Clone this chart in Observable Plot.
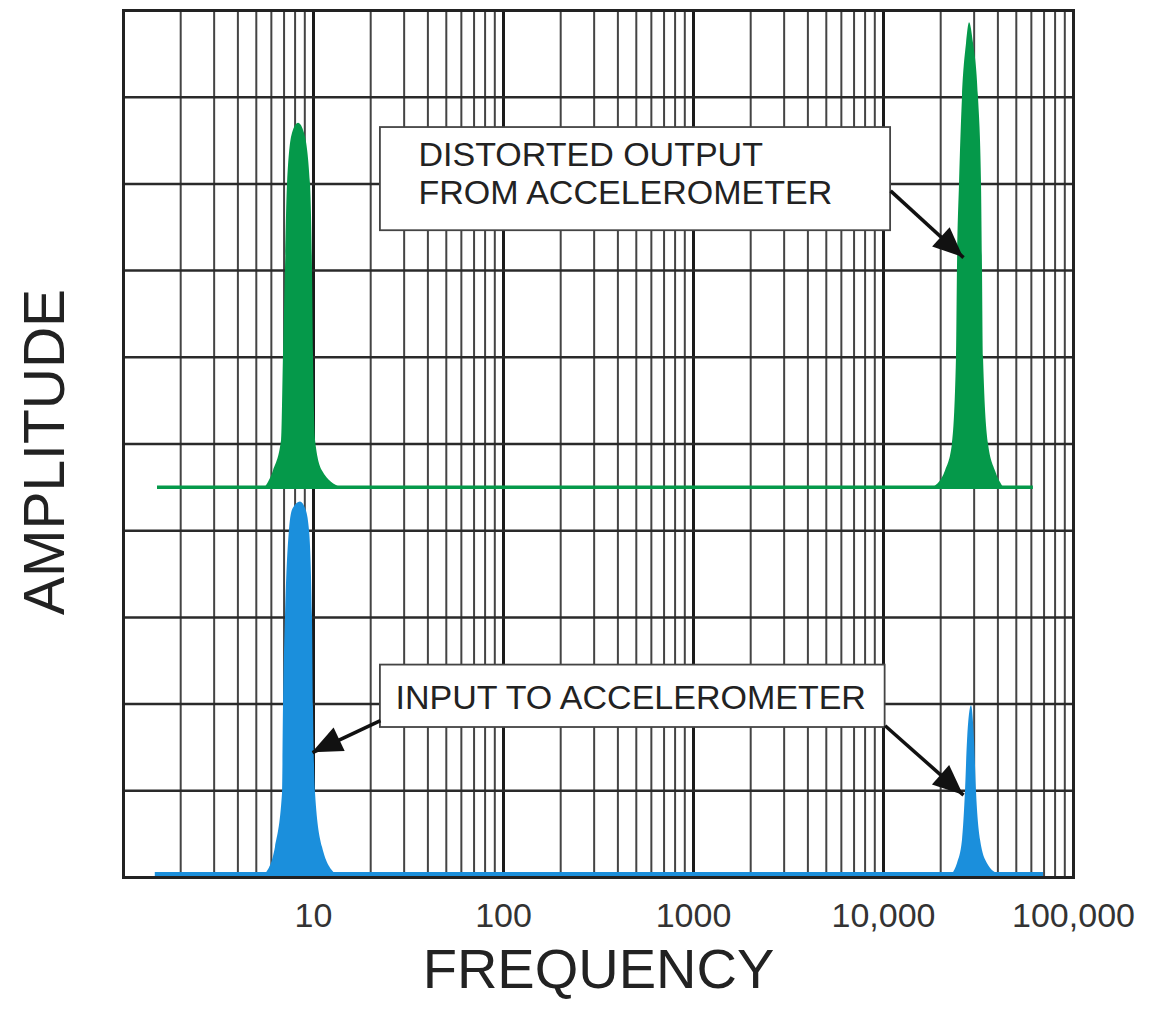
<!DOCTYPE html>
<html>
<head>
<meta charset="utf-8">
<script src="https://cdn.jsdelivr.net/npm/d3@7"></script>
<script src="https://cdn.jsdelivr.net/npm/@observablehq/plot@0.6"></script>
<style>
  body { margin: 0; background: #fff; }
  #chart svg { display: block; }
</style>
</head>
<body>
<div id="chart"></div>
<script>
// Frequency axis: labelled decades
const decadeTicks = [10, 100, 1000, 10000, 100000];
const decadeLabels = ["10", "100", "1000", "10,000", "100,000"];
const amplitudeGrid = [0, 1, 2, 3, 4, 5, 6, 7, 8, 9, 10];

// Spectrum baselines (amplitude) and their frequency extent (Hz)
const outputBaseline = 4.5;
const inputBaseline = 0.04;
const outputSpan = [1.51, 61500];
const inputSpan = [1.47, 69500];

// Peak outlines as [frequency Hz, amplitude]
const outputPeakLow = [
  [5.59, 4.5], [6.16, 4.69], [6.79, 5.04], [6.95, 6.02], [7.12, 7.01], [7.30, 8.0],
  [7.75, 8.58], [8.34, 8.70], [8.97, 8.58], [9.64, 8.0], [9.88, 7.01], [10.0, 6.02],
  [10.25, 5.04], [11.15, 4.69], [13.87, 4.5]
];
const outputPeakHigh = [
  [18330, 4.5], [21200, 4.69], [23070, 5.0], [24220, 6.0], [24500, 7.0], [25120, 8.0],
  [26050, 9.0], [27350, 9.62], [28370, 9.86], [29770, 9.62], [31620, 9.0], [32800, 8.0],
  [33200, 7.0], [33600, 6.0], [35700, 5.0], [38840, 4.69], [42840, 4.5]
];
const inputPeakLow = [
  [5.59, 0.04], [6.31, 0.35], [6.87, 0.97], [6.95, 1.96], [7.12, 3.0], [7.47, 4.0],
  [7.8, 4.25], [8.54, 4.33], [9.1, 4.25], [9.53, 4.0], [9.88, 3.0], [10.0, 1.96],
  [10.25, 0.97], [11.15, 0.35], [13.06, 0.04]
];
const inputPeakHigh = [
  [23070, 0.04], [24500, 0.16], [26050, 0.43], [27020, 1.0], [27690, 1.58], [29040, 1.98],
  [30130, 1.58], [30850, 1.0], [32420, 0.43], [35270, 0.16], [40300, 0.04]
];

// Callout boxes, their text and arrows (frequency / amplitude coordinates)
const calloutText = ["DISTORTED OUTPUT\nFROM ACCELEROMETER", "INPUT TO ACCELEROMETER"];
const calloutFreqLeft = [22.5, 22.5];
const calloutFreqRight = [10900, 10200];
const calloutAmpBottom = [7.46, 1.73];
const calloutAmpTop = [8.65, 2.45];
const calloutTextFreq = [35.7, 27];
const calloutTextAmp = [8.13, 2.08];

const arrowFrom = [[10900, 7.92], [22.5, 1.81], [10200, 1.75]];
const arrowTo = [[26370, 7.15], [9.88, 1.44], [26370, 0.95]];

const green = "#05994a";
const blue = "#1b8fdc";

// Log-paper grid: intermediate lines 2..9 within each decade
const minorGrid = [];
for (const decade of [1, 10, 100, 1000, 10000]) {
  for (let m = 2; m <= 9; m++) minorGrid.push(decade * m);
}

const callouts = calloutText.map((text, i) => ({
  text,
  x1: calloutFreqLeft[i], x2: calloutFreqRight[i],
  y1: calloutAmpBottom[i], y2: calloutAmpTop[i],
  tx: calloutTextFreq[i], ty: calloutTextAmp[i]
}));
const arrows = arrowFrom.map((p, i) => ({f1: p[0], a1: p[1], f2: arrowTo[i][0], a2: arrowTo[i][1]}));
const toPoints = (arr) => arr.map(([f, a]) => ({f, a}));

// Filled triangular arrowheads placed at each arrow's tip
function arrowHeads(index, scales) {
  const g = d3.create("svg:g").attr("fill", "#111");
  for (const a of arrows) {
    const x1 = scales.x(a.f1), y1 = scales.y(a.a1);
    const x2 = scales.x(a.f2), y2 = scales.y(a.a2);
    const len = Math.hypot(x2 - x1, y2 - y1);
    const ux = (x2 - x1) / len, uy = (y2 - y1) / len;
    const L = 30, W = 13;
    const bx = x2 - ux * L, by = y2 - uy * L;
    g.append("path").attr("d",
      `M${x2},${y2}L${bx - uy * W},${by + ux * W}L${bx + uy * W},${by - ux * W}Z`);
  }
  return g.node();
}

const chart = Plot.plot({
  width: 1157,
  height: 1014,
  marginLeft: 123,
  marginRight: 84,
  marginTop: 10,
  marginBottom: 137,
  style: {fontFamily: "'Liberation Sans', Arial, sans-serif", color: "#222", background: "#fff"},
  x: {type: "log", domain: [1, 100000]},
  y: {domain: [0, 10], axis: null},
  marks: [
    Plot.ruleX(minorGrid, {stroke: "#444", strokeWidth: 2}),
    Plot.ruleX(decadeTicks, {stroke: "#1a1a1a", strokeWidth: 3}),
    Plot.ruleY(amplitudeGrid, {stroke: "#2a2a2a", strokeWidth: 2.5}),
    Plot.frame({stroke: "#222", strokeWidth: 3}),

    // Output spectrum
    Plot.ruleY([outputBaseline], {x1: outputSpan[0], x2: outputSpan[1], stroke: green, strokeWidth: 3.5}),
    Plot.areaY(toPoints(outputPeakLow), {x: "f", y1: outputBaseline, y2: "a", fill: green, curve: "monotone-x"}),
    Plot.areaY(toPoints(outputPeakHigh), {x: "f", y1: outputBaseline, y2: "a", fill: green, curve: "monotone-x"}),

    // Input spectrum
    Plot.ruleY([inputBaseline], {x1: inputSpan[0], x2: inputSpan[1], stroke: blue, strokeWidth: 4}),
    Plot.areaY(toPoints(inputPeakLow), {x: "f", y1: inputBaseline, y2: "a", fill: blue, curve: "monotone-x"}),
    Plot.areaY(toPoints(inputPeakHigh), {x: "f", y1: inputBaseline, y2: "a", fill: blue, curve: "monotone-x"}),

    // Callouts
    Plot.rect(callouts, {x1: "x1", x2: "x2", y1: "y1", y2: "y2", fill: "#fff", stroke: "#444", strokeWidth: 1.8}),
    Plot.text(callouts, {x: "tx", y: "ty", text: "text", textAnchor: "start", fontSize: 34,
      lineHeight: 1.12, fill: "#222", letterSpacing: "-0.3px"}),
    Plot.link(arrows, {x1: "f1", y1: "a1", x2: "f2", y2: "a2", stroke: "#111", strokeWidth: 3.5}),
    arrowHeads,

    // Axes
    Plot.axisX(decadeTicks, {tickFormat: (d) => decadeLabels[decadeTicks.indexOf(d)],
      tickSize: 0, tickPadding: 25, fontSize: 34, label: null, fill: "#333"}),
    Plot.text(["FREQUENCY"], {frameAnchor: "bottom", textAnchor: "middle", dy: 110, fontSize: 56, fill: "#222"}),
    Plot.text(["AMPLITUDE"], {frameAnchor: "left", textAnchor: "middle", rotate: -90, dx: -78, dy: 8, fontSize: 57, fill: "#222"})
  ]
});

document.getElementById("chart").append(chart);
</script>
</body>
</html>
